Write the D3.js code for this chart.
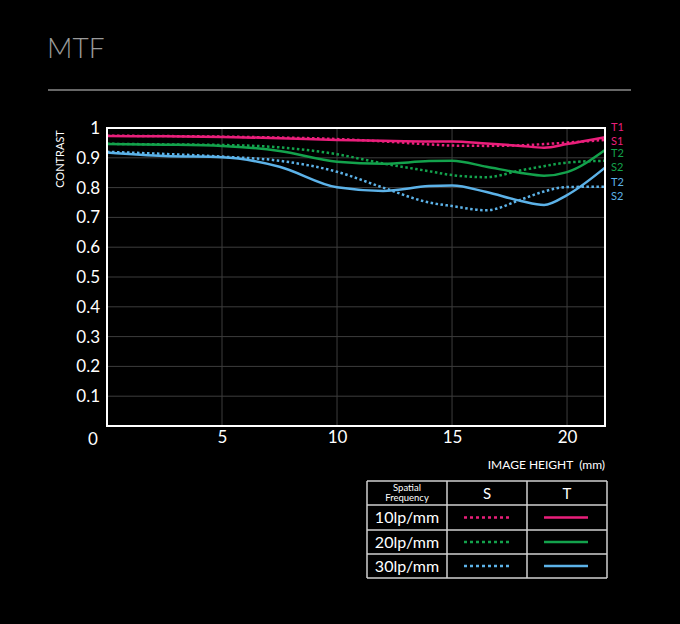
<!DOCTYPE html>
<html>
<head>
<meta charset="utf-8">
<script src="https://cdn.jsdelivr.net/npm/d3@7"></script>
<style>
  html, body { margin: 0; padding: 0; background: #000; }
  svg { display: block; font-family: Lato, "DejaVu Sans", sans-serif; }
</style>
</head>
<body>
<div id="chart"></div>
<script>
// image height (mm) sample points
const heights = [0, 2.5, 5, 7.5, 10, 12, 14, 15, 16.5, 18, 19, 20, 21.65];

// contrast values
const t10 = [0.973, 0.972, 0.970, 0.966, 0.960, 0.957, 0.955, 0.955, 0.948, 0.940, 0.934, 0.946, 0.969];
const s10 = [0.974, 0.973, 0.971, 0.968, 0.963, 0.955, 0.945, 0.941, 0.940, 0.942, 0.946, 0.951, 0.960];
const t20 = [0.946, 0.944, 0.940, 0.923, 0.887, 0.880, 0.889, 0.890, 0.870, 0.849, 0.840, 0.852, 0.926];
const s20 = [0.947, 0.945, 0.943, 0.935, 0.912, 0.881, 0.855, 0.842, 0.835, 0.858, 0.872, 0.884, 0.890];
const t30 = [0.918, 0.906, 0.902, 0.870, 0.801, 0.789, 0.805, 0.807, 0.785, 0.755, 0.742, 0.775, 0.867];
const s30 = [0.920, 0.913, 0.904, 0.890, 0.853, 0.800, 0.750, 0.738, 0.724, 0.760, 0.787, 0.802, 0.803];

const frequencies = ['10lp/mm', '20lp/mm', '30lp/mm'];
const colors = ['#ea1f7b', '#13a24c', '#5cb2e8'];
const yTicks = [0.1, 0.2, 0.3, 0.4, 0.5, 0.6, 0.7, 0.8, 0.9, 1];
const xTicks = [5, 10, 15, 20];
const endLabels = ['T1', 'S1', 'T2', 'S2', 'T2', 'S2'];

const W = 680, H = 624;
const svg = d3.select('#chart').append('svg').attr('width', W).attr('height', H);

// title + rule
svg.append('text').attr('x', 47).attr('y', 58).attr('fill', '#9a9a9a')
  .attr('font-size', 28).attr('font-weight', 300).text('MTF');
svg.append('line').attr('x1', 48).attr('x2', 631).attr('y1', 90).attr('y2', 90)
  .attr('stroke', '#8a8a8a').attr('stroke-width', 1.5);

// plot area
const pl = 107, pr = 605, pt = 128, pb = 426;
const x = d3.scaleLinear().domain([0, 21.65]).range([pl, pr]);
const y = d3.scaleLinear().domain([0, 1]).range([pb, pt]);

// grid
svg.append('g').selectAll('line').data(yTicks.filter(d => d < 1)).enter().append('line')
  .attr('x1', pl).attr('x2', pr).attr('y1', d => y(d)).attr('y2', d => y(d))
  .attr('stroke', '#3d3d3d').attr('stroke-width', 1);
svg.append('g').selectAll('line').data(xTicks).enter().append('line')
  .attr('y1', pt).attr('y2', pb).attr('x1', d => x(d)).attr('x2', d => x(d))
  .attr('stroke', '#3d3d3d').attr('stroke-width', 1);

// axes labels
const yAxis = svg.append('g').attr('transform', `translate(${pl},0)`)
  .call(d3.axisLeft(y).tickValues(yTicks).tickSize(0).tickPadding(7).tickFormat(d3.format('')));
const xAxis = svg.append('g').attr('transform', `translate(0,${pb})`)
  .call(d3.axisBottom(x).tickValues(xTicks).tickSize(0).tickPadding(5));
[yAxis, xAxis].forEach(a => {
  a.select('.domain').remove();
  a.selectAll('text').attr('fill', '#fff').attr('font-size', 17).attr('font-family', 'Lato, sans-serif');
});
svg.append('text').attr('x', 93).attr('y', 445).attr('text-anchor', 'middle')
  .attr('fill', '#fff').attr('font-size', 17).text('0');

svg.append('text').attr('x', 605).attr('y', 469).attr('text-anchor', 'end')
  .attr('fill', '#fff').attr('font-size', 12).attr('xml:space', 'preserve')
  .text('IMAGE HEIGHT  (mm)');
svg.append('text').attr('transform', 'translate(64,159) rotate(-90)').attr('text-anchor', 'middle')
  .attr('fill', '#fff').attr('font-size', 11).text('CONTRAST');

// curves
const line = d3.line().x((d, i) => x(heights[i])).y(d => y(d)).curve(d3.curveMonotoneX);
const series = [
  { v: s10, c: colors[0], dash: true }, { v: t10, c: colors[0], dash: false },
  { v: s20, c: colors[1], dash: true }, { v: t20, c: colors[1], dash: false },
  { v: s30, c: colors[2], dash: true }, { v: t30, c: colors[2], dash: false }
];
svg.append('g').selectAll('path').data(series).enter().append('path')
  .attr('d', d => line(d.v)).attr('fill', 'none').attr('stroke', d => d.c)
  .attr('stroke-width', 2.5).attr('stroke-dasharray', d => d.dash ? '2.5,2.5' : null);

// plot frame
svg.append('rect').attr('x', pl).attr('y', pt).attr('width', pr - pl).attr('height', pb - pt)
  .attr('fill', 'none').attr('stroke', '#fff').attr('stroke-width', 2);

// end labels
const labelY = [131, 144.5, 157, 170.5, 186, 199.5];
svg.append('g').selectAll('text').data(endLabels).enter().append('text')
  .attr('x', 611).attr('y', (d, i) => labelY[i]).attr('fill', (d, i) => colors[Math.floor(i / 2)])
  .attr('font-size', 11).text(d => d);

// legend table
const tx = [367, 447, 527, 607];
const ty = [481, 505, 530, 554, 578];
const tbl = svg.append('g');
tbl.selectAll('.h').data(ty).enter().append('line')
  .attr('x1', tx[0]).attr('x2', tx[3]).attr('y1', d => d).attr('y2', d => d)
  .attr('stroke', '#d0d0d0').attr('stroke-width', 1.5);
tbl.selectAll('.v').data(tx).enter().append('line')
  .attr('y1', ty[0]).attr('y2', ty[4]).attr('x1', d => d).attr('x2', d => d)
  .attr('stroke', '#d0d0d0').attr('stroke-width', 1.5);
tbl.append('text').attr('x', 407).attr('y', 491).attr('text-anchor', 'middle')
  .attr('fill', '#fff').attr('font-size', 9.5).text('Spatial');
tbl.append('text').attr('x', 407).attr('y', 501).attr('text-anchor', 'middle')
  .attr('fill', '#fff').attr('font-size', 9.5).text('Frequency');
tbl.append('text').attr('x', 487).attr('y', 499).attr('text-anchor', 'middle')
  .attr('fill', '#fff').attr('font-size', 15).text('S');
tbl.append('text').attr('x', 567).attr('y', 499).attr('text-anchor', 'middle')
  .attr('fill', '#fff').attr('font-size', 15).text('T');
frequencies.forEach((f, i) => {
  const cy = (ty[i + 1] + ty[i + 2]) / 2;
  tbl.append('text').attr('x', 407).attr('y', cy + 5.5).attr('text-anchor', 'middle')
    .attr('fill', '#fff').attr('font-size', 16).text(f);
  tbl.append('line').attr('x1', 464).attr('x2', 509).attr('y1', cy).attr('y2', cy)
    .attr('stroke', colors[i]).attr('stroke-width', 2.5).attr('stroke-dasharray', '3,3');
  tbl.append('line').attr('x1', 544).attr('x2', 588).attr('y1', cy).attr('y2', cy)
    .attr('stroke', colors[i]).attr('stroke-width', 2.5);
});
</script>
</body>
</html>
